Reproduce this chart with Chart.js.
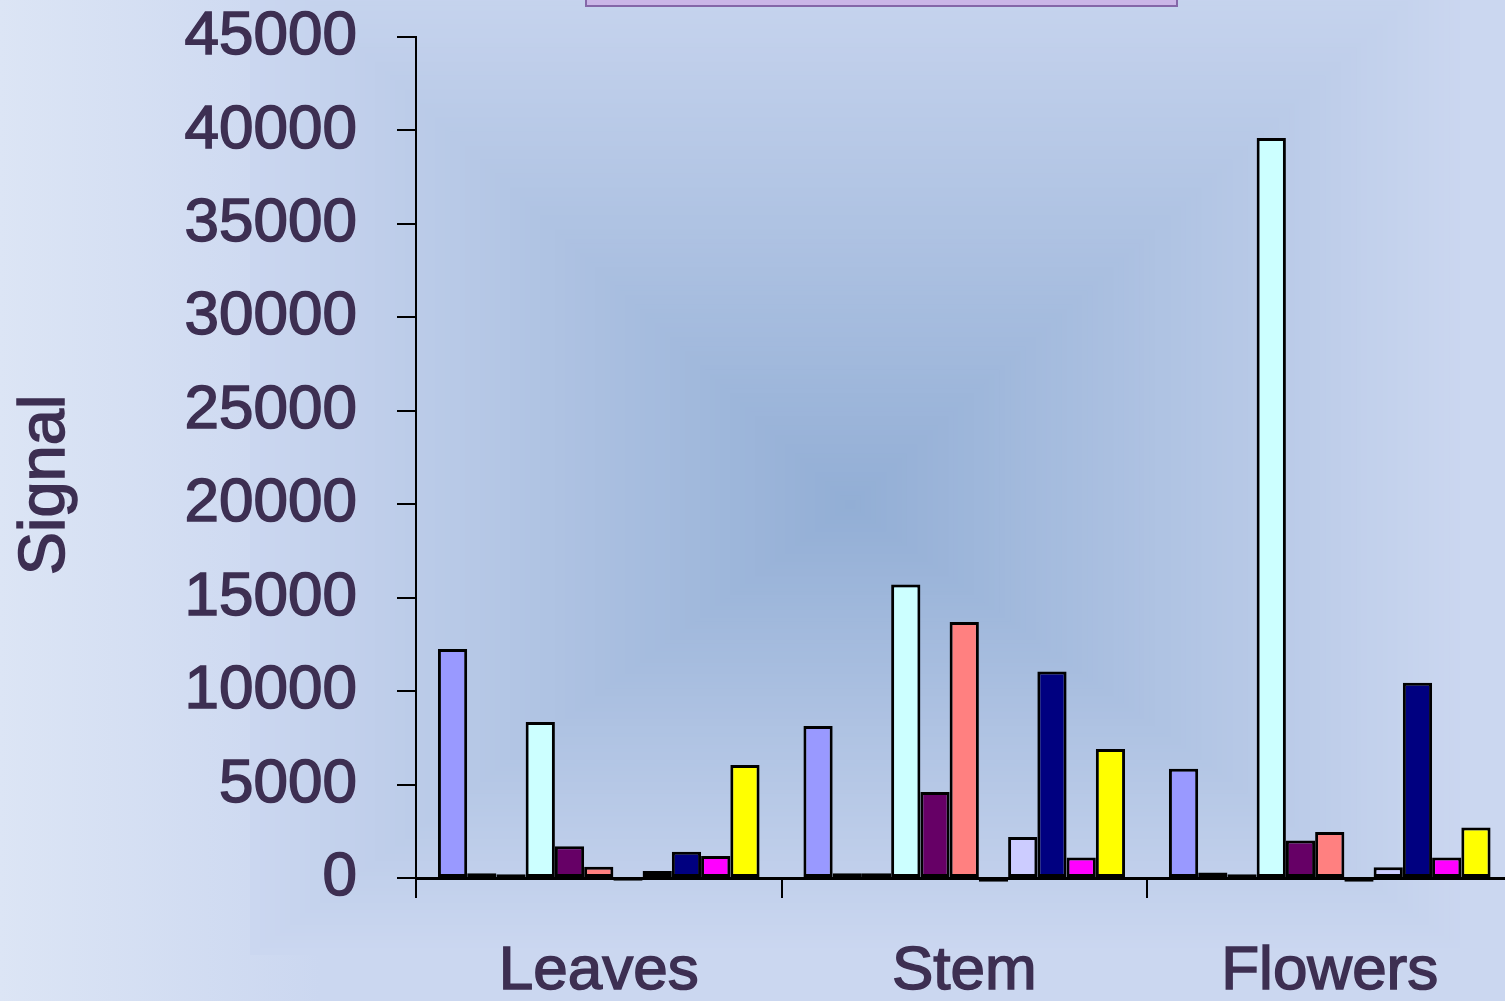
<!DOCTYPE html>
<html>
<head>
<meta charset="utf-8">
<title>Signal</title>
<script src="https://cdn.jsdelivr.net/npm/chart.js@4.4.1/dist/chart.umd.min.js"></script>
<style>
  html, body { margin: 0; padding: 0; overflow: hidden; background: #cbd7f0; }
  #wrap { position: relative; width: 1515px; height: 1001px; }
</style>
</head>
<body>
<div id="wrap"><canvas id="chartContainer"></canvas></div>
<script>
"use strict";

// categories on the x axis
var categories = ['Leaves', 'Stem', 'Flowers'];

// y axis ticks
var yMin = 0;
var yMax = 45000;
var yStep = 5000;

// series names (no legend on the picture) and the excel default colours
var seriesNames = ['Series 1', 'Series 2', 'Series 3', 'Series 4', 'Series 5', 'Series 6',
  'Series 7', 'Series 8', 'Series 9', 'Series 10', 'Series 11'];
var seriesColors = ['#9999FF', '#993366', '#FFFFCC', '#CCFFFF', '#660066', '#FF8080',
  '#0066CC', '#CCCCFF', '#000080', '#FF00FF', '#FFFF00'];

// values per series: Leaves, Stem, Flowers
var s1 = [12250, 8130, 5850];
var s2 = [250, 250, 300];
var s3 = [200, 250, 200];
var s4 = [8350, 15700, 39600];
var s5 = [1700, 4600, 2000];
var s6 = [600, 13700, 2460];
var s7 = [-150, -200, -200];
var s8 = [370, 2200, 570];
var s9 = [1400, 11050, 10450];
var s10 = [1180, 1100, 1100];
var s11 = [6050, 6900, 2700];

var seriesValues = [s1, s2, s3, s4, s5, s6, s7, s8, s9, s10, s11];

var textColor = '#3d2f52';
var fontFamily = '"Liberation Sans", Arial, sans-serif';

// background: light slide with a rectangular "from centre" gradient
var backgroundPlugin = {
  id: 'bg',
  beforeDraw: function(chart) {
    var ctx = chart.ctx;
    var w = chart.width, h = chart.height;
    ctx.save();
    var lin = ctx.createLinearGradient(0, 0, 320, 0);
    lin.addColorStop(0, '#dce5f5');
    lin.addColorStop(1, '#cbd7f0');
    ctx.fillStyle = lin;
    ctx.fillRect(0, 0, w, h);

    var cx = 850, cy = 505;
    var left = 600, right = 620, top = 560, bottom = 450;
    var c0 = [146, 174, 213], c1 = [203, 215, 240];
    var steps = 120;
    for (var i = steps; i >= 1; i--) {
      var t = i / steps;
      var r = Math.round(c0[0] + (c1[0] - c0[0]) * t);
      var g = Math.round(c0[1] + (c1[1] - c0[1]) * t);
      var b = Math.round(c0[2] + (c1[2] - c0[2]) * t);
      ctx.fillStyle = 'rgb(' + r + ',' + g + ',' + b + ')';
      ctx.fillRect(cx - left * t, cy - top * t, (left + right) * t, (top + bottom) * t);
    }
    ctx.restore();
  },
  afterDraw: function(chart) {
    var ctx = chart.ctx;
    ctx.save();
    // title box, mostly cut off at the top
    ctx.fillStyle = '#cbb6e7';
    ctx.fillRect(585, -10, 593, 16);
    ctx.strokeStyle = '#8567a8';
    ctx.lineWidth = 2;
    ctx.strokeRect(586, -10, 591, 16);

    // y axis title
    ctx.translate(46, 485);
    ctx.rotate(-Math.PI / 2);
    ctx.fillStyle = textColor;
    ctx.strokeStyle = textColor;
    ctx.lineWidth = 1.5;
    ctx.font = '65px ' + fontFamily;
    ctx.textAlign = 'center';
    ctx.textBaseline = 'middle';
    ctx.fillText('Signal', 0, 0);
    ctx.strokeText('Signal', 0, 0);
    ctx.restore();
  }
};

var datasets = seriesNames.map(function(name, i) {
  return {
    label: name,
    data: seriesValues[i],
    backgroundColor: seriesColors[i],
    borderColor: '#000000',
    borderWidth: 3,
    borderSkipped: false,
    categoryPercentage: 0.88,
    barPercentage: 1.0,
    clip: false
  };
});

var ctx = document.getElementById('chartContainer').getContext('2d');
var chart = new Chart(ctx, {
  type: 'bar',
  data: {
    labels: categories,
    datasets: datasets
  },
  plugins: [backgroundPlugin],
  options: {
    responsive: true,
    maintainAspectRatio: false,
    animation: false,
    layout: {
      padding: { top: 37, right: 2.5, left: 0, bottom: 0 }
    },
    plugins: {
      legend: { display: false },
      title: { display: false },
      tooltip: { enabled: false }
    },
    scales: {
      x: {
        afterFit: function(scale) {
          scale.height = 123;
          scale.paddingLeft = 0;
          scale.paddingRight = 0;
        },
        grid: {
          display: true,
          offset: true,
          drawOnChartArea: false,
          drawTicks: true,
          tickLength: 20,
          color: '#000000',
          lineWidth: 2
        },
        border: { display: true, color: '#000000', width: 3 },
        ticks: {
          color: textColor,
          textStrokeColor: textColor,
          textStrokeWidth: 1.5,
          padding: 37,
          maxRotation: 0,
          font: { family: fontFamily, size: 62 }
        }
      },
      y: {
        min: yMin,
        max: yMax,
        afterFit: function(scale) {
          scale.width = 416;
          scale.paddingTop = 0;
          scale.paddingBottom = 0;
        },
        grid: {
          display: true,
          drawOnChartArea: false,
          drawTicks: true,
          tickLength: 19,
          color: '#000000',
          lineWidth: 2
        },
        border: { display: true, color: '#000000', width: 2 },
        ticks: {
          stepSize: yStep,
          color: textColor,
          textStrokeColor: textColor,
          textStrokeWidth: 1.5,
          padding: 40,
          font: { family: fontFamily, size: 62, lineHeight: 1.13 },
          callback: function(value) { return String(value); }
        }
      }
    }
  }
});
</script>
</body>
</html>
